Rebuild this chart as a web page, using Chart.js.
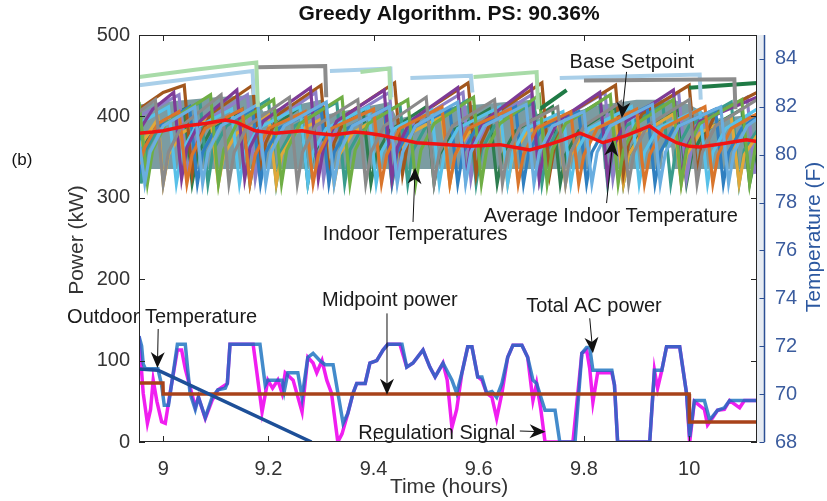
<!DOCTYPE html>
<html>
<head>
<meta charset="utf-8">
<script src="https://cdn.jsdelivr.net/npm/chart.js"></script>
<style>
  html, body { margin: 0; padding: 0; background: #fff; }
  #wrap { width: 827px; height: 501px; }
</style>
</head>
<body>
<div id="wrap"><canvas id="chart" width="827" height="501"></canvas></div>
<script>
// ---- axis ticks ----
const xTicks = [9, 9.2, 9.4, 9.6, 9.8, 10];
const xTickLabels = ['9', '9.2', '9.4', '9.6', '9.8', '10'];
const powerTicks = [0, 100, 200, 300, 400, 500];
const tempTicks = [68, 70, 72, 74, 76, 78, 80, 82, 84];

// ---- power series: [time (h), kW] ----
const totalAcPower = [
  [8.954, 130], [8.959, 118], [8.962, 96], [8.966, 90], [8.990, 90], [8.997, 70], [9.002, 45],
  [9.010, 45], [9.018, 80], [9.027, 120], [9.042, 120], [9.051, 60], [9.061, 40], [9.067, 55],
  [9.080, 30], [9.093, 55], [9.104, 64], [9.118, 66], [9.122, 72], [9.127, 120], [9.184, 120],
  [9.194, 70], [9.199, 76], [9.226, 76], [9.230, 62], [9.237, 85], [9.256, 85], [9.264, 55],
  [9.275, 104], [9.285, 109], [9.298, 100], [9.308, 95], [9.323, 95], [9.342, 23], [9.351, 35],
  [9.361, 60], [9.368, 72], [9.384, 72], [9.393, 97], [9.406, 100], [9.418, 113], [9.427, 120],
  [9.454, 120], [9.463, 92], [9.475, 97], [9.494, 113], [9.507, 92], [9.517, 80], [9.532, 97],
  [9.549, 76], [9.558, 60], [9.568, 85], [9.579, 117], [9.587, 117], [9.598, 80], [9.606, 80],
  [9.615, 60], [9.625, 62], [9.634, 55], [9.644, 72], [9.655, 104], [9.665, 119], [9.682, 119],
  [9.693, 104], [9.703, 76], [9.710, 72], [9.720, 51], [9.726, 39], [9.745, 39], [9.754, 0],
  [9.783, 0], [9.796, 109], [9.805, 116], [9.811, 116], [9.817, 88], [9.824, 88], [9.853, 88],
  [9.858, 70], [9.864, 0], [9.925, 0], [9.934, 88], [9.948, 88], [9.957, 117], [9.982, 117],
  [9.995, 60], [10.001, 6], [10.010, 51], [10.029, 51], [10.039, 27], [10.054, 39], [10.067, 42],
  [10.077, 51], [10.129, 51]
];
const regulationSignal = [
  [8.954, 130], [8.962, 60], [8.970, 23], [8.976, 40], [8.981, 76], [8.988, 50], [8.997, 25],
  [9.004, 23], [9.013, 60], [9.027, 113], [9.035, 113], [9.042, 90], [9.061, 43], [9.067, 55],
  [9.080, 29], [9.093, 51], [9.104, 64], [9.118, 70], [9.122, 72], [9.127, 120], [9.171, 120],
  [9.188, 37], [9.199, 76], [9.208, 66], [9.218, 76], [9.226, 60], [9.232, 85], [9.247, 76],
  [9.264, 37], [9.275, 104], [9.285, 97], [9.292, 85], [9.302, 100], [9.311, 76], [9.320, 60],
  [9.332, 0], [9.340, 10], [9.351, 35], [9.361, 60], [9.368, 72], [9.384, 72], [9.393, 97],
  [9.406, 100], [9.418, 113], [9.427, 120], [9.450, 120], [9.463, 92], [9.475, 97], [9.494, 113],
  [9.507, 92], [9.517, 80], [9.532, 97], [9.540, 76], [9.549, 18], [9.558, 40], [9.568, 85],
  [9.579, 117], [9.587, 117], [9.598, 80], [9.606, 76], [9.615, 60], [9.625, 55], [9.634, 29],
  [9.644, 60], [9.655, 104], [9.665, 119], [9.682, 119], [9.693, 104], [9.703, 51], [9.710, 72],
  [9.718, 40], [9.726, 0], [9.779, 0], [9.796, 109], [9.805, 113], [9.811, 90], [9.817, 49],
  [9.826, 85], [9.853, 85], [9.858, 70], [9.864, 0], [9.925, 0], [9.934, 88], [9.940, 66],
  [9.948, 88], [9.957, 117], [9.982, 117], [9.995, 60], [10.001, 0], [10.010, 50], [10.029, 40],
  [10.035, 21], [10.045, 30], [10.054, 39], [10.067, 40], [10.077, 51], [10.096, 42], [10.105, 51],
  [10.129, 51]
];
const midpointPower = [
  [8.954, 72.5], [8.9995, 72.5], [9.0, 59], [10.0, 59], [10.0005, 24.5], [10.129, 24.5]
];

// ---- temperature series: [time (h), deg F] ----
const outdoorTemp = [[8.954, 71.05], [8.99, 71.0], [9.0, 70.9], [9.282, 68.0]];
const avgIndoorTemp = [
  [8.954, 80.9], [8.98, 80.95], [9.0, 81.0], [9.042, 81.2], [9.08, 81.3], [9.118, 81.45],
  [9.14, 81.35], [9.175, 81.0], [9.213, 80.9], [9.24, 80.95], [9.264, 81.0], [9.29, 80.9],
  [9.323, 80.82], [9.365, 80.95], [9.39, 80.9], [9.412, 80.82], [9.45, 80.65], [9.482, 80.5],
  [9.52, 80.45], [9.583, 80.35], [9.62, 80.4], [9.64, 80.42], [9.67, 80.3], [9.697, 80.2],
  [9.73, 80.4], [9.76, 80.62], [9.792, 80.9], [9.81, 80.75], [9.836, 80.5], [9.88, 80.8],
  [9.925, 81.2], [9.95, 80.8], [9.976, 80.5], [10.0, 80.35], [10.02, 80.32], [10.06, 80.45],
  [10.109, 80.62], [10.129, 80.55]
];
// band where the indoor traces overlap densely
const bandTimes = [8.954, 9.0, 9.1, 9.178, 9.19, 9.3, 9.315, 9.43, 9.445, 9.55, 9.7, 9.718, 9.8,
  9.81, 9.814, 9.834, 9.838, 9.9, 9.948, 9.952, 9.966, 9.97, 10.0, 10.05, 10.129];
const bandUpper = [82.1, 82.2, 82.4, 82.5, 81.8, 82.3, 81.7, 82.2, 81.5, 82.0, 82.3, 81.4, 81.9,
  82.0, 82.0, 82.1, 82.1, 82.3, 82.3, 82.3, 82.3, 82.3, 82.1, 81.5, 81.7];
const bandLower = [79.4, 79.4, 79.4, 79.4, 79.4, 79.4, 79.4, 79.4, 79.4, 79.4, 79.4, 79.4, 79.4,
  79.4, 80.6, 80.6, 79.4, 79.4, 79.4, 80.3, 80.3, 79.4, 79.4, 79.4, 79.4];

// individual indoor traces: fast drop when the AC runs, slow arched rise when it is off
const indoor1 = [[8.954, 80.6], [8.965, 78.8], [8.975, 80.1], [9.0, 81.2], [9.06, 82.0], [9.075, 78.8],
  [9.085, 80.1], [9.11, 81.2], [9.18, 82.1], [9.195, 78.8], [9.205, 80.1], [9.23, 81.2], [9.31, 82.2],
  [9.325, 78.8], [9.335, 80.1], [9.36, 81.2], [9.43, 82.0], [9.445, 78.8], [9.455, 80.1], [9.48, 81.2],
  [9.56, 82.2], [9.575, 78.8], [9.585, 80.1], [9.61, 81.2], [9.69, 82.1], [9.705, 78.8], [9.715, 80.1],
  [9.74, 81.2], [9.80, 81.8], [9.815, 78.8], [9.825, 80.1], [9.85, 81.2], [9.93, 82.1], [9.945, 78.8],
  [9.955, 80.1], [9.98, 81.2], [10.06, 82.0], [10.075, 78.8], [10.085, 80.1], [10.11, 81.2], [10.129, 81.5]];
const indoor2 = [[8.954, 81.8], [8.985, 82.3], [9.0, 78.8], [9.01, 80.1], [9.035, 81.2], [9.11, 82.5],
  [9.125, 78.8], [9.135, 80.1], [9.16, 81.2], [9.24, 82.4], [9.255, 78.8], [9.265, 80.1], [9.29, 81.2],
  [9.37, 82.3], [9.385, 78.8], [9.395, 80.1], [9.42, 81.2], [9.50, 82.4], [9.515, 78.8], [9.525, 80.1],
  [9.55, 81.2], [9.63, 82.3], [9.645, 78.8], [9.655, 80.1], [9.68, 81.2], [9.75, 82.0], [9.765, 78.8],
  [9.775, 80.1], [9.80, 81.2], [9.87, 82.2], [9.885, 78.8], [9.895, 80.1], [9.92, 81.2], [10.0, 82.3],
  [10.015, 78.8], [10.025, 80.1], [10.05, 81.2], [10.129, 82.3]];
const indoor3 = [[8.954, 79.6], [8.965, 80.3], [8.99, 81.3], [9.03, 81.8], [9.045, 78.8], [9.055, 80.0],
  [9.08, 81.1], [9.15, 81.9], [9.165, 78.8], [9.175, 80.0], [9.2, 81.1], [9.27, 81.8], [9.285, 78.8],
  [9.295, 80.0], [9.32, 81.1], [9.40, 81.9], [9.415, 78.8], [9.425, 80.0], [9.45, 81.1], [9.53, 82.0],
  [9.545, 78.8], [9.555, 80.0], [9.58, 81.1], [9.66, 81.9], [9.675, 78.8], [9.685, 80.0], [9.71, 81.1],
  [9.775, 81.8], [9.79, 78.8], [9.8, 80.0], [9.825, 81.1], [9.90, 81.9], [9.915, 78.8], [9.925, 80.0],
  [9.95, 81.1], [10.03, 82.0], [10.045, 78.8], [10.055, 80.0], [10.08, 81.1], [10.129, 81.7]];
const indoor4 = [[8.954, 82.2], [8.97, 78.8], [8.98, 80.2], [9.005, 81.3], [9.09, 82.5], [9.105, 78.8],
  [9.115, 80.2], [9.14, 81.3], [9.21, 82.3], [9.225, 78.8], [9.235, 80.2], [9.26, 81.3], [9.34, 82.4],
  [9.355, 78.8], [9.365, 80.2], [9.39, 81.3], [9.465, 82.3], [9.48, 78.8], [9.49, 80.2], [9.515, 81.3],
  [9.59, 82.4], [9.605, 78.8], [9.615, 80.2], [9.64, 81.3], [9.715, 82.5], [9.73, 78.8], [9.74, 80.2],
  [9.765, 81.3], [9.85, 82.5], [9.865, 78.8], [9.875, 80.2], [9.9, 81.3], [9.97, 82.3], [9.985, 78.8],
  [9.995, 80.2], [10.02, 81.3], [10.10, 82.3], [10.115, 78.8], [10.125, 80.2], [10.129, 80.5]];
const indoor5 = [[8.954, 81.0], [8.98, 81.9], [9.02, 82.6], [9.035, 79.0], [9.045, 80.3], [9.07, 81.4],
  [9.14, 82.7], [9.155, 79.0], [9.165, 80.3], [9.19, 81.4], [9.28, 82.8], [9.295, 79.0], [9.305, 80.3],
  [9.33, 81.4], [9.42, 82.7], [9.435, 79.0], [9.445, 80.3], [9.47, 81.4], [9.56, 82.8], [9.575, 79.0],
  [9.585, 80.3], [9.61, 81.4], [9.70, 82.9], [9.715, 79.0], [9.725, 80.3], [9.75, 81.4], [9.83, 82.6],
  [9.845, 79.0], [9.855, 80.3], [9.88, 81.4], [9.97, 82.7], [9.985, 79.0], [9.995, 80.3], [10.02, 81.4],
  [10.129, 82.4]];
const indoor6 = [[8.954, 81.3], [9.01, 82.0], [9.025, 78.8], [9.035, 80.1], [9.06, 81.1], [9.13, 81.9],
  [9.145, 78.8], [9.155, 80.1], [9.18, 81.1], [9.26, 82.0], [9.275, 78.8], [9.285, 80.1], [9.31, 81.1],
  [9.39, 82.0], [9.405, 78.8], [9.415, 80.1], [9.44, 81.1], [9.51, 81.9], [9.525, 78.8], [9.535, 80.1],
  [9.56, 81.1], [9.64, 82.0], [9.655, 78.8], [9.665, 80.1], [9.69, 81.1], [9.76, 81.8], [9.775, 78.8],
  [9.785, 80.1], [9.81, 81.1], [9.89, 82.0], [9.905, 78.8], [9.915, 80.1], [9.94, 81.1], [10.02, 81.9],
  [10.035, 78.8], [10.045, 80.1], [10.07, 81.1], [10.129, 81.9]];
const indoor7 = [[8.954, 79.2], [8.96, 80.0], [8.985, 81.1], [9.05, 82.0], [9.065, 78.8], [9.075, 80.1],
  [9.1, 81.1], [9.17, 81.9], [9.185, 78.8], [9.195, 80.1], [9.22, 81.1], [9.30, 82.0], [9.315, 78.8],
  [9.325, 80.1], [9.35, 81.1], [9.42, 81.9], [9.435, 78.8], [9.445, 80.1], [9.47, 81.1], [9.545, 81.9],
  [9.56, 78.8], [9.57, 80.1], [9.595, 81.1], [9.67, 82.0], [9.685, 78.8], [9.695, 80.1], [9.72, 81.1],
  [9.79, 81.8], [9.805, 78.8], [9.815, 80.1], [9.84, 81.1], [9.92, 82.0], [9.935, 78.8], [9.945, 80.1],
  [9.97, 81.1], [10.05, 81.9], [10.065, 78.8], [10.075, 80.1], [10.1, 81.1], [10.129, 81.6]];
const indoor8 = [[8.954, 81.9], [9.0, 82.6], [9.04, 82.9], [9.055, 79.2], [9.065, 80.5], [9.09, 81.7],
  [9.17, 82.9], [9.185, 79.2], [9.195, 80.5], [9.22, 81.7], [9.30, 82.9], [9.315, 79.2], [9.325, 80.5],
  [9.35, 81.7], [9.44, 83.0], [9.455, 79.2], [9.465, 80.5], [9.49, 81.7], [9.58, 83.0], [9.595, 79.2],
  [9.605, 80.5], [9.63, 81.7], [9.72, 83.0], [9.735, 79.2], [9.745, 80.5], [9.77, 81.7], [9.86, 82.9],
  [9.875, 79.2], [9.885, 80.5], [9.91, 81.7], [10.0, 82.9], [10.015, 79.2], [10.025, 80.5], [10.05, 81.7],
  [10.129, 82.6]];
const indoor9 = [[8.954, 80.3], [8.99, 81.5], [9.0, 78.8], [9.01, 80.0], [9.035, 80.9], [9.09, 81.6],
  [9.105, 78.8], [9.115, 80.0], [9.14, 80.9], [9.2, 81.7], [9.215, 78.8], [9.225, 80.0], [9.25, 80.9],
  [9.31, 81.6], [9.325, 78.8], [9.335, 80.0], [9.36, 80.9], [9.42, 81.7], [9.435, 78.8], [9.445, 80.0],
  [9.47, 80.9], [9.53, 81.6], [9.545, 78.8], [9.555, 80.0], [9.58, 80.9], [9.64, 81.7], [9.655, 78.8],
  [9.665, 80.0], [9.69, 80.9], [9.75, 81.6], [9.765, 78.8], [9.775, 80.0], [9.8, 80.9], [9.86, 81.6],
  [9.875, 78.8], [9.885, 80.0], [9.91, 80.9], [9.97, 81.7], [9.985, 78.8], [9.995, 80.0], [10.02, 80.9],
  [10.08, 81.6], [10.095, 78.8], [10.105, 80.0], [10.129, 80.8]];
const indoor10 = [[8.954, 81.5], [8.958, 78.8], [8.968, 80.2], [8.993, 81.2], [9.07, 82.2], [9.085, 78.8],
  [9.095, 80.2], [9.12, 81.2], [9.2, 82.3], [9.215, 78.8], [9.225, 80.2], [9.25, 81.2], [9.33, 82.2],
  [9.345, 78.8], [9.355, 80.2], [9.38, 81.2], [9.45, 82.1], [9.465, 78.8], [9.475, 80.2], [9.5, 81.2],
  [9.58, 82.3], [9.595, 78.8], [9.605, 80.2], [9.63, 81.2], [9.705, 82.2], [9.72, 78.8], [9.73, 80.2],
  [9.755, 81.2], [9.83, 82.2], [9.845, 78.8], [9.855, 80.2], [9.88, 81.2], [9.95, 82.1], [9.965, 78.8],
  [9.975, 80.2], [10.0, 81.2], [10.08, 82.2], [10.095, 78.8], [10.105, 80.2], [10.129, 81.0]];
const indoor11 = [[8.954, 81.6], [9.03, 82.5], [9.045, 79.0], [9.055, 80.3], [9.08, 81.4], [9.16, 82.5],
  [9.175, 79.0], [9.185, 80.3], [9.21, 81.4], [9.29, 82.6], [9.305, 79.0], [9.315, 80.3], [9.34, 81.4],
  [9.43, 82.6], [9.445, 79.0], [9.455, 80.3], [9.48, 81.4], [9.57, 82.6], [9.585, 79.0], [9.595, 80.3],
  [9.62, 81.4], [9.70, 82.5], [9.715, 79.0], [9.725, 80.3], [9.75, 81.4], [9.84, 82.6], [9.855, 79.0],
  [9.865, 80.3], [9.89, 81.4], [9.98, 82.6], [9.995, 79.0], [10.005, 80.3], [10.03, 81.4], [10.11, 82.4],
  [10.125, 79.2]];
const indoor12 = [[8.954, 79.5], [8.97, 80.6], [9.0, 81.4], [9.04, 81.9], [9.055, 78.8], [9.065, 80.0],
  [9.09, 81.0], [9.15, 81.9], [9.165, 78.8], [9.175, 80.0], [9.2, 81.0], [9.26, 82.0], [9.275, 78.8],
  [9.285, 80.0], [9.31, 81.0], [9.38, 81.9], [9.395, 78.8], [9.405, 80.0], [9.43, 81.0], [9.5, 82.0],
  [9.515, 78.8], [9.525, 80.0], [9.55, 81.0], [9.62, 81.9], [9.635, 78.8], [9.645, 80.0], [9.67, 81.0],
  [9.74, 82.0], [9.755, 78.8], [9.765, 80.0], [9.79, 81.0], [9.86, 82.0], [9.875, 78.8], [9.885, 80.0],
  [9.91, 81.0], [9.98, 81.9], [9.995, 78.8], [10.005, 80.0], [10.03, 81.0], [10.1, 81.9], [10.115, 78.8],
  [10.125, 79.8], [10.129, 80.0]];
// upper traces held at their limit (null = break)
const indoorTopGreen = [[8.954, 83.25], [9.06, 83.55], [9.177, 83.85], [9.18, 82.0], [9.2, null],
  [9.375, 83.45], [9.43, 83.6], [9.432, 82.3], [9.45, null], [9.59, 83.25], [9.71, 83.45], [9.713, 81.9]];
const indoorTopGray = [[9.18, 83.65], [9.308, 83.7], [9.31, 82.4], [9.4, null], [9.80, 83.1],
  [10.086, 83.15], [10.088, 81.9]];
const indoorTopBlue = [[8.954, 82.9], [9.17, 83.5], [9.172, 82.5], [9.2, null], [9.317, 83.5],
  [9.432, 83.6], [9.434, 82.4], [9.45, null], [9.47, 83.2], [9.585, 83.3], [9.588, 82.6], [9.6, null],
  [9.754, 83.2], [10.02, 83.35], [10.022, 82.3]];
const indoorTopDarkGreen = [[9.716, 81.9], [9.767, 82.7], [9.8, null], [10.0, 82.8], [10.129, 83.0]];

const indoorSeries = [
  [indoor1, '#6aaee0'], [indoor2, '#8a8a8a'], [indoor3, '#d9752b'], [indoor4, '#6fae45'],
  [indoor5, '#7e3b97'], [indoor6, '#58c0e8'], [indoor7, '#2f7fc0'], [indoor8, '#a2571d'],
  [indoor9, '#e0a83a'], [indoor10, '#3a9c8c'], [indoor11, '#8d7fc7'], [indoor12, '#2e7d4f']
];
const indoorTopSeries = [
  [indoorTopGreen, '#a8dba8'], [indoorTopGray, '#8c8c8c'], [indoorTopBlue, '#a9cfe9'],
  [indoorTopDarkGreen, '#1f7a45']
];

const toPts = arr => arr.map(([t, v]) => ({ x: t, y: v }));

// annotations in data units
const notes = [
  { text: 'Base Setpoint', axis: 'y1', at: [9.891, 83.87], from: [9.881, 83.46], to: [9.872, 81.53] },
  { text: 'Average Indoor Temperature', axis: 'y1', at: [9.851, 77.4], from: [9.843, 77.98], to: [9.855, 80.61] },
  { text: 'Indoor Temperatures', axis: 'y1', at: [9.479, 76.65], from: [9.475, 77.19], to: [9.479, 79.45] },
  { text: 'Outdoor Temperature', axis: 'y1', at: [8.998, 73.22], from: [8.9905, 72.72], to: [8.989, 71.09] },
  { text: 'Midpoint power', axis: 'y', at: [9.431, 174], from: [9.4255, 158], to: [9.4255, 58] },
  { text: 'Total AC power', axis: 'y', at: [9.819, 166], from: [9.811, 152], to: [9.817, 109] },
  { text: 'Regulation Signal', axis: 'y', at: [9.520, 11], from: [9.678, 13.5], to: [9.727, 12.5] }
];

const FONT = '"Liberation Sans", Arial, sans-serif';

const datasets = [];
const lineDs = (data, color, width, axis, order) => ({
  data: toPts(data), borderColor: color, borderWidth: width, yAxisID: axis,
  showLine: true, pointRadius: 0, fill: false, order: order, spanGaps: false
});

datasets.push(lineDs(outdoorTemp, '#1d4f98', 3.5, 'y1', 1));
datasets.push(lineDs(midpointPower, '#a8421a', 3.5, 'y', 2));
datasets.push(lineDs(totalAcPower, 'rgba(20,110,190,0.8)', 3.5, 'y', 3));
datasets.push(lineDs(regulationSignal, '#f01ef0', 3.5, 'y', 4));
datasets.push(lineDs(avgIndoorTemp, '#f01414', 3.5, 'y1', 5));
indoorTopSeries.forEach(([d, c]) => datasets.push(lineDs(d, c, 4, 'y1', 6)));
indoorSeries.forEach(([d, c]) => datasets.push(lineDs(d, c, 3.2, 'y1', 7)));
const bandIdx = datasets.length;
datasets.push({
  data: bandTimes.map((t, i) => ({ x: t, y: bandLower[i] })), yAxisID: 'y1', showLine: true,
  pointRadius: 0, borderWidth: 0, borderColor: 'rgba(0,0,0,0)', fill: false, order: 9
});
datasets.push({
  data: bandTimes.map((t, i) => ({ x: t, y: bandUpper[i] })), yAxisID: 'y1', showLine: true,
  pointRadius: 0, borderWidth: 0, borderColor: 'rgba(0,0,0,0)',
  backgroundColor: '#7b9ca2', fill: bandIdx, order: 8
});

const decor = {
  id: 'decor',
  afterDraw(chart) {
    const { ctx, chartArea: a, scales } = chart;
    const sx = scales.x, sy = scales.y, sy1 = scales.y1;
    const seg = (x0, y0, x1, y1) => { ctx.beginPath(); ctx.moveTo(x0, y0); ctx.lineTo(x1, y1); ctx.stroke(); };
    ctx.save();

    // right temperature axis strip
    const rx = a.right + 7.5;
    ctx.fillStyle = '#e6ebf2';
    ctx.fillRect(a.right, a.top, 7, a.bottom - a.top);
    ctx.strokeStyle = '#2c4f94';
    ctx.lineWidth = 1.5;
    seg(rx, a.top, rx, a.bottom);
    ctx.lineWidth = 1;
    tempTicks.forEach(v => { const p = Math.round(sy1.getPixelForValue(v)) + 0.5; seg(rx - 5, p, rx, p); });

    // box and inward ticks
    ctx.strokeStyle = '#262626';
    ctx.lineWidth = 1;
    ctx.strokeRect(a.left + 0.5, a.top + 0.5, a.right - a.left - 1, a.bottom - a.top - 1);
    xTicks.forEach(v => {
      const p = Math.round(sx.getPixelForValue(v)) + 0.5;
      seg(p, a.bottom, p, a.bottom - 6);
      seg(p, a.top, p, a.top + 6);
    });
    powerTicks.forEach(v => {
      const p = Math.round(sy.getPixelForValue(v)) + 0.5;
      seg(a.left, p, a.left + 6, p);
      seg(a.right, p, a.right - 6, p);
    });

    // titles
    ctx.fillStyle = '#111';
    ctx.textAlign = 'center';
    ctx.textBaseline = 'middle';
    ctx.font = 'bold 21px ' + FONT;
    ctx.fillText('Greedy Algorithm. PS: 90.36%', 449, 14);
    ctx.font = '17px ' + FONT;
    ctx.fillText('(b)', 22, 160);
    ctx.fillStyle = '#333';
    ctx.font = '21px ' + FONT;
    ctx.fillText('Time (hours)', 449, 487);
    ctx.save();
    ctx.translate(77, 240);
    ctx.rotate(-Math.PI / 2);
    ctx.fillText('Power (kW)', 0, 0);
    ctx.restore();
    ctx.save();
    ctx.fillStyle = '#2c58a0';
    ctx.translate(814, 237);
    ctx.rotate(-Math.PI / 2);
    ctx.fillText('Temperature (F)', 0, 0);
    ctx.restore();

    // annotations with arrows
    ctx.font = '20px ' + FONT;
    notes.forEach(n => {
      const ys = n.axis === 'y' ? sy : sy1;
      const px = v => sx.getPixelForValue(v[0]);
      const py = v => ys.getPixelForValue(v[1]);
      const x0 = px(n.from), y0 = py(n.from), x1 = px(n.to), y1 = py(n.to);
      const ang = Math.atan2(y1 - y0, x1 - x0);
      const L = 16, W = 7;
      const bx = x1 - L * Math.cos(ang), by = y1 - L * Math.sin(ang);
      ctx.strokeStyle = '#111';
      ctx.lineWidth = 1;
      seg(x0, y0, x1 - 10 * Math.cos(ang), y1 - 10 * Math.sin(ang));
      ctx.fillStyle = '#111';
      ctx.beginPath();
      ctx.moveTo(x1, y1);
      ctx.lineTo(bx - W * Math.sin(ang), by + W * Math.cos(ang));
      ctx.lineTo(x1 - 0.7 * L * Math.cos(ang), y1 - 0.7 * L * Math.sin(ang));
      ctx.lineTo(bx + W * Math.sin(ang), by - W * Math.cos(ang));
      ctx.closePath();
      ctx.fill();
      ctx.fillStyle = '#1a1a1a';
      ctx.fillText(n.text, px(n.at), py(n.at));
    });
    ctx.restore();
  }
};

new Chart(document.getElementById('chart'), {
  type: 'scatter',
  data: { datasets },
  options: {
    responsive: false,
    animation: false,
    devicePixelRatio: 1,
    layout: { padding: { top: 35, left: 0, right: 0, bottom: 0 } },
    plugins: { legend: { display: false }, title: { display: false }, tooltip: { enabled: false } },
    scales: {
      x: {
        type: 'linear', min: 8.954, max: 10.129,
        afterBuildTicks: s => { s.ticks = xTicks.map(v => ({ value: v })); },
        afterFit: s => { s.height = 59; },
        ticks: { callback: (v, i) => xTickLabels[i], color: '#333', font: { size: 20, family: FONT }, padding: 15, maxRotation: 0 },
        grid: { display: false, drawTicks: false },
        border: { display: false }
      },
      y: {
        type: 'linear', position: 'left', min: 0, max: 500,
        afterBuildTicks: s => { s.ticks = powerTicks.map(v => ({ value: v })); },
        afterFit: s => { s.width = 139; },
        ticks: { callback: v => String(v), color: '#333', font: { size: 20, family: FONT }, padding: 9 },
        grid: { display: false, drawTicks: false },
        border: { display: false }
      },
      y1: {
        type: 'linear', position: 'right', min: 68, max: 85,
        afterBuildTicks: s => { s.ticks = tempTicks.map(v => ({ value: v })); },
        afterFit: s => { s.width = 70; },
        ticks: { callback: v => String(v), color: '#3b5c9e', font: { size: 20, family: FONT }, padding: 18 },
        grid: { display: false, drawTicks: false },
        border: { display: false }
      }
    }
  },
  plugins: [decor]
});
</script>
</body>
</html>
